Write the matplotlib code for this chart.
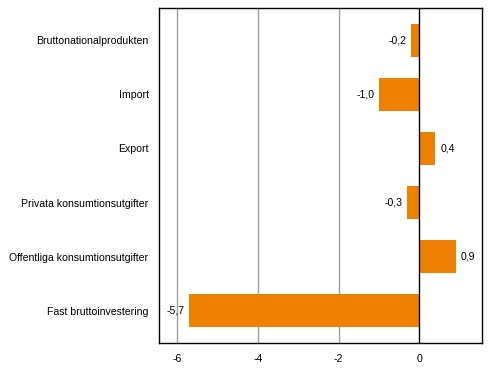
import matplotlib
matplotlib.use("Agg")
import matplotlib.pyplot as plt

categories = ["Bruttonationalprodukten", "Import", "Export",
              "Privata konsumtionsutgifter", "Offentliga konsumtionsutgifter",
              "Fast bruttoinvestering"]
values = [-0.2, -1.0, 0.4, -0.3, 0.9, -5.7]
xticks = [-6, -4, -2, 0]

plt.rcParams['font.family'] = ['Liberation Sans', 'DejaVu Sans']
plt.rcParams['font.size'] = 7.6

fig = plt.figure(figsize=(4.91, 3.78), dpi=100)
ax = fig.add_axes([0.3238, 0.0926, 0.6579, 0.8862])

y = list(range(len(categories)))
ax.barh(y, values, height=0.6, color='#ee8200', zorder=3)

# value labels next to the bar ends
for yi, v in zip(y, values):
    label = f"{v:.1f}".replace('.', ',')
    if v < 0:
        ax.text(v - 0.12, yi, label, ha='right', va='center')
    else:
        ax.text(v + 0.12, yi, label, ha='left', va='center')

ax.set_ylim(5.6, -0.6)
ax.set_xlim(-6.45, 1.555)
ax.set_yticks(y)
ax.set_yticklabels(categories)
ax.set_xticks(xticks)
ax.set_xticklabels([str(t) for t in xticks])
ax.tick_params(length=0, pad=7.5)
ax.tick_params(axis='x', pad=8)

for t in xticks[:-1]:
    ax.axvline(t, color='#a0a0a0', lw=1, zorder=1)
ax.axvline(0, color='black', lw=1, zorder=4)
for s in ax.spines.values():
    s.set_linewidth(1)

fig.savefig("out.png", dpi=100)
